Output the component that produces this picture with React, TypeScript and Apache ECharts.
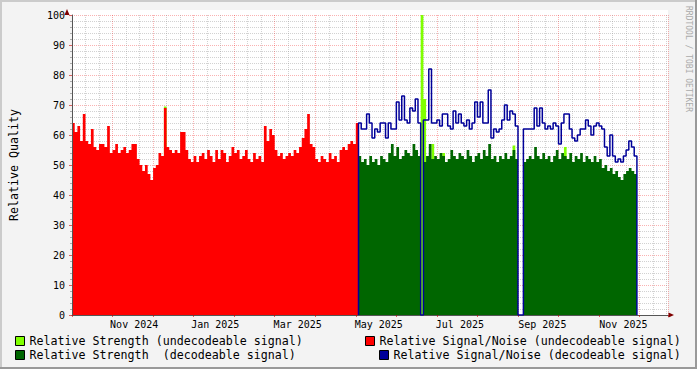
import React, { useEffect, useRef } from "react";
import * as echarts from "echarts";

// ---- data (x in days from the start of the graph, 2-day steps) ----
const DAY_STEP = 2;
const AXIS_MAX_DAY = 441;
const MAJOR_TICK_DAYS = 30;

const undecStartDay = 0;
const snUndecodeable = [
  64, 61, 63, 58, 67, 58, 57, 62, 56, 55,
  57, 57, 56, 63, 54, 55, 57, 54, 55, 56,
  54, 55, 57, 57, 52, 50, 48, 50, 47, 45,
  49, 50, 54, 53, 69, 56, 55, 54, 55, 54,
  61, 61, 55, 52, 51, 53, 51, 53, 54, 52,
  55, 53, 51, 55, 52, 55, 54, 51, 53, 56,
  54, 55, 52, 53, 55, 52, 51, 54, 52, 53,
  51, 63, 58, 62, 60, 55, 53, 54, 52, 53,
  54, 53, 55, 54, 56, 59, 62, 67, 57, 56,
  52, 51, 53, 52, 51, 54, 52, 53, 51, 55,
  56, 55, 57, 58, 57, 64,
];

const decStartDay = 212;
const snDecodeable = [
  64, 62, 62, 67, 64, 59, 62, 61, 64, 64,
  59, 64, 62, 62, 71, 65, 73, 65, 64, 69,
  68, 72, 64, 0, 65, 65, 82, 64, 64, 65,
  63, 67, 67, 63, 62, 68, 64, 67, 64, 63,
  65, 62, 64, 71, 66, 71, 64, 64, 75, 59,
  62, 61, 62, 65, 70, 65, 68, 67, 63, 0,
  0, 62, 62, 62, 62, 69, 63, 69, 64, 62,
  63, 62, 64, 63, 57, 64, 67, 67, 62, 59,
  58, 60, 62, 62, 65, 63, 60, 63, 64, 63,
  62, 56, 53, 60, 53, 51, 52, 51, 53, 55,
  58, 56, 53,
];
const strengthDecodeable = [
  53, 51, 52, 50, 53, 51, 52, 50, 53, 52,
  51, 54, 57, 53, 56, 52, 53, 55, 54, 53,
  57, 55, 53, 0, 51, 53, 57, 52, 53, 52,
  54, 53, 51, 52, 55, 53, 52, 54, 53, 52,
  55, 53, 51, 53, 54, 52, 55, 53, 57, 52,
  53, 51, 53, 52, 54, 52, 53, 55, 52, 0,
  0, 51, 52, 53, 52, 56, 53, 52, 54, 52,
  53, 51, 53, 55, 52, 54, 53, 52, 54, 51,
  53, 52, 54, 51, 53, 52, 51, 53, 51, 52,
  49, 50, 48, 49, 47, 48, 46, 45, 47, 48,
  49, 48, 47,
];

// undecodeable strength: only non-zero on these days
const strengthUndecDays = [68, 258, 260, 266, 274, 326, 364];
const strengthUndecValues = [69.5, 100, 72, 57, 54, 56.5, 56];

// x-axis labels (day positions and texts)
const labelDays = [46, 106, 167, 227, 287, 348, 408];
const labelNames = ["Nov 2024", "Jan 2025", "Mar 2025", "May 2025", "Jul 2025", "Sep 2025", "Nov 2025"];

const seriesNames = [
  "Relative Strength (undecodeable signal)",
  "Relative Signal/Noise (undecodeable signal)",
  "Relative Strength  (decodeable signal)",
  "Relative Signal/Noise (decodeable signal)",
];
const seriesColors = ["#80FF00", "#FF0000", "#006600", "#000099"];

const MONO = '"DejaVu Sans Mono", monospace';

function pairs(start: number, vals: number[]) {
  return vals.map((v, i) => [start + i * DAY_STEP, v]);
}

export default function App() {
  const ref = useRef<HTMLDivElement>(null);

  useEffect(() => {
    if (!ref.current) return;
    const chart = echarts.init(ref.current, undefined, { renderer: "svg" });

    const decEnd = decStartDay + snDecodeable.length * DAY_STEP;
    const undecEnd = undecStartDay + snUndecodeable.length * DAY_STEP;

    const redData = [...pairs(undecStartDay, snUndecodeable), [undecEnd, snUndecodeable[snUndecodeable.length - 1]]];
    const darkGreenData = [...pairs(decStartDay, strengthDecodeable), [decEnd, 0]];
    const blueData = [[decStartDay, 0], ...pairs(decStartDay, snDecodeable), [decEnd, 0]];
    const lightGreenData: number[][] = [];
    for (let d = undecStartDay; d < decEnd; d += DAY_STEP) {
      const k = strengthUndecDays.indexOf(d);
      lightGreenData.push([d, k >= 0 ? strengthUndecValues[k] : 0]);
    }
    lightGreenData.push([decEnd, 0]);

    const areaSeries = (idx: number, data: number[][]) => ({
      name: seriesNames[idx],
      type: "line",
      step: "end",
      symbol: "none",
      silent: true,
      color: seriesColors[idx],
      itemStyle: { color: seriesColors[idx] },
      lineStyle: { width: 0, opacity: 0 },
      areaStyle: { color: seriesColors[idx], opacity: 1 },
      data,
    });

    const legendCommon = {
      orient: "horizontal",
      padding: 0,
      itemWidth: 9,
      itemHeight: 9,
      icon: "rect",
      selectedMode: false,
      itemStyle: { borderColor: "#000", borderWidth: 1 },
      textStyle: { fontFamily: MONO, fontSize: 11.65, color: "#000" },
    };

    const gridMajor = { color: "rgba(240,0,0,0.3)", type: [1, 1], width: 1 };
    const gridMinor = { color: "rgba(143,143,143,0.4)", type: [1, 1], width: 1 };

    chart.setOption({
      animation: false,
      backgroundColor: "#F3F3F3",
      grid: { left: 67, right: 29, top: 15, bottom: 54, show: true, backgroundColor: "#fff", borderWidth: 0 },
      xAxis: [
        {
          type: "value",
          position: "bottom",
          min: 0,
          max: AXIS_MAX_DAY,
          interval: MAJOR_TICK_DAYS,
          z: 3,
          axisLine: { show: true, lineStyle: { color: "#555", width: 1 } },
          axisTick: { show: true, length: 2, lineStyle: { color: "rgba(200,0,0,0.6)" } },
          axisLabel: { show: false },
          splitLine: { show: true, lineStyle: gridMajor },
          minorTick: { show: false, splitNumber: 3 },
          minorSplitLine: { show: true, lineStyle: gridMinor },
        },
        {
          type: "value",
          position: "bottom",
          min: 0,
          max: AXIS_MAX_DAY,
          interval: 1,
          axisLine: { show: false },
          axisTick: { show: false },
          splitLine: { show: false },
          axisLabel: {
            show: true,
            margin: 4,
            fontFamily: MONO,
            fontSize: 10,
            color: "#000",
            formatter: (v: number) => {
              const k = labelDays.indexOf(Math.round(v));
              return k >= 0 ? labelNames[k] : "";
            },
          },
        },
      ],
      yAxis: {
        type: "value",
        min: 0,
        max: 100,
        interval: 10,
        z: 3,
        name: "Relative Quality",
        nameLocation: "middle",
        nameRotate: 90,
        nameGap: 52,
        nameTextStyle: { fontFamily: MONO, fontSize: 11.65, color: "#000" },
        axisLine: { show: true, lineStyle: { color: "#555", width: 1 } },
        axisTick: { show: true, length: 3, lineStyle: { color: "rgba(200,0,0,0.6)" } },
        minorTick: { show: true, splitNumber: 5, length: 2, lineStyle: { color: "rgba(100,100,100,0.5)" } },
        axisLabel: { fontFamily: MONO, fontSize: 10, color: "#000", margin: 7 },
        splitLine: { show: true, lineStyle: gridMajor },
        minorSplitLine: { show: true, lineStyle: gridMinor },
      },
      legend: [
        { ...legendCommon, data: [seriesNames[0]], left: 15, top: 335 },
        { ...legendCommon, data: [seriesNames[1]], left: 365, top: 335 },
        { ...legendCommon, data: [seriesNames[2]], left: 15, top: 349 },
        { ...legendCommon, data: [seriesNames[3]], left: 379, top: 349 },
      ],
      graphic: [
        { type: "rect", shape: { x: 67, y: 10, width: 601, height: 5 }, style: { fill: "#fff" }, z: 0 },
        { type: "polygon", shape: { points: [[64.5, 15], [69.5, 15], [67, 9]] }, style: { fill: "#7F0000" }, z: 10 },
        { type: "polygon", shape: { points: [[668.5, 312.5], [668.5, 317.5], [674, 315]] }, style: { fill: "#7F0000" }, z: 10 },
        {
          type: "text",
          x: 688.5,
          y: 59,
          rotation: -Math.PI / 2,
          z: 10,
          style: {
            text: "RRDTOOL / TOBI OETIKER",
            fill: "#aaa",
            font: '8px "DejaVu Sans Mono"',
            textAlign: "center",
            textVerticalAlign: "middle",
            align: "center",
            verticalAlign: "middle",
          },
        },
        { type: "rect", shape: { x: 0, y: 0, width: 697, height: 2 }, style: { fill: "#CBCBCB" }, z: 20 },
        { type: "rect", shape: { x: 0, y: 0, width: 2, height: 369 }, style: { fill: "#CBCBCB" }, z: 20 },
        { type: "rect", shape: { x: 0, y: 367, width: 697, height: 2 }, style: { fill: "#999" }, z: 20 },
        { type: "rect", shape: { x: 695, y: 0, width: 2, height: 369 }, style: { fill: "#999" }, z: 20 },
      ],
      series: [
        areaSeries(0, lightGreenData),
        areaSeries(1, redData),
        areaSeries(2, darkGreenData),
        {
          name: seriesNames[3],
          type: "line",
          step: "end",
          symbol: "none",
          silent: true,
          color: seriesColors[3],
          itemStyle: { color: seriesColors[3] },
          lineStyle: { width: 1.5, color: seriesColors[3] },
          data: blueData,
        },
      ],
    });

    return () => chart.dispose();
  }, []);

  return <div ref={ref} style={{ position: "fixed", left: 0, top: 0, width: 697, height: 369 }} />;
}
